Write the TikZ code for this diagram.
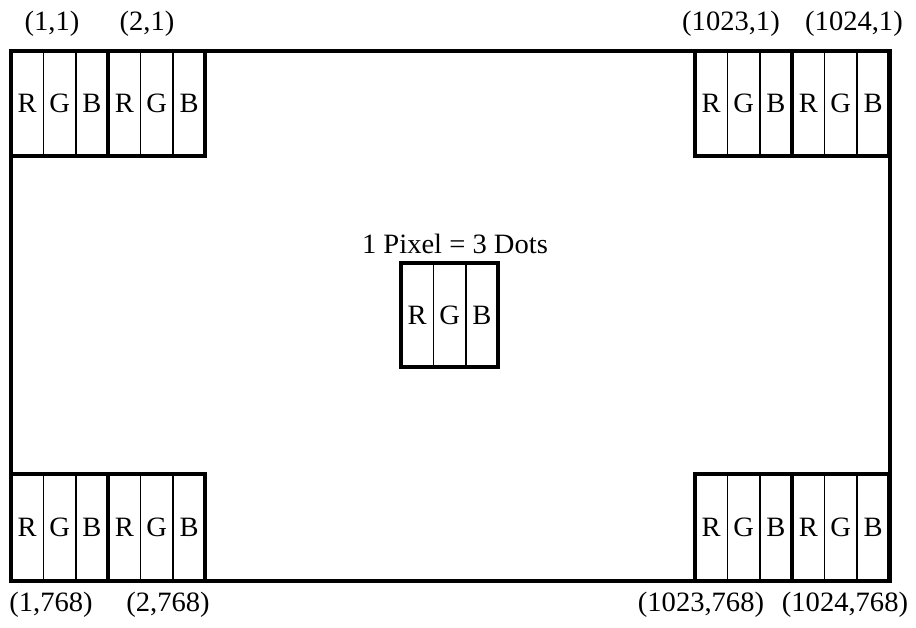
\documentclass[tikz,border=0pt]{standalone}
\usepackage{fontspec}
\setmainfont{Liberation Serif}[FakeStretch=1.02]
\newcommand\pixelblock[4]{%
  \node[dotcell, minimum height=#4pt, anchor=north west] (#1r) at (#2,#3) {R};
  \node[dotcell, minimum height=#4pt, anchor=west] (#1g) at (#1r.east) {G};
  \node[dotcell, minimum height=#4pt, anchor=west] (#1b) at (#1g.east) {B};
  \draw[pixbox] (#1r.north west) rectangle (#1b.south east);}
\begin{document}
\begin{tikzpicture}[x=1pt,y=-1pt,
  dotcell/.style={draw, line width=1.5pt, minimum width=32.4pt, inner sep=0pt, outer sep=0pt, font=\fontsize{28}{32}\selectfont},
  pixbox/.style={draw, line width=4pt},
  lbl/.style={font=\fontsize{28}{32}\selectfont, inner sep=0pt}]
\useasboundingbox (0,0) rectangle (916,627);
\node[draw, line width=4pt, minimum width=879pt, minimum height=530pt, anchor=north west, outer sep=0pt, inner sep=0pt] (screen) at (11,51) {};
\pixelblock{tla}{11}{51}{105}
\pixelblock{tlb}{108.2}{51}{105}
\pixelblock{tra}{695}{51}{105}
\pixelblock{trb}{792.2}{51}{105}
\pixelblock{bla}{11}{474}{107}
\pixelblock{blb}{108.2}{474}{107}
\pixelblock{bra}{695}{474}{107}
\pixelblock{brb}{792.2}{474}{107}
\pixelblock{mid}{401}{263}{104}
\node[lbl, anchor=base] (title) at (455,253) {1 Pixel = 3 Dots};
\node[lbl] (l11) at (52,24) {(1,1)};
\node[lbl] (l21) at (147,24) {(2,1)};
\node[lbl] (l10231) at (731,24) {(1023,1)};
\node[lbl] (l10241) at (854,24) {(1024,1)};
\node[lbl] (l1768) at (51,605) {(1,768)};
\node[lbl] (l2768) at (168,605) {(2,768)};
\node[lbl] (l1023768) at (701,605) {(1023,768)};
\node[lbl] (l1024768) at (845,605) {(1024,768)};
\end{tikzpicture}
\end{document}
